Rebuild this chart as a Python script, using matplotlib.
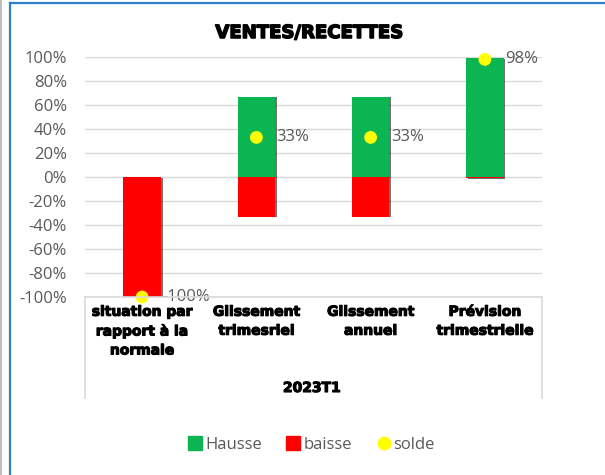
import numpy as np
import matplotlib.pyplot as plt
import matplotlib.patheffects as pe
from matplotlib.lines import Line2D

categories = ["situation par\nrapport à la\nnormale", "Glissement\ntrimesriel",
              "Glissement\nannuel", "Prévision\ntrimestrielle"]
hausse = [0, 67, 67, 99]
baisse = [-100, -33, -33, -1]
solde = [-100, 33, 33, 98]
group_label = "2023T1"
title = "VENTES/RECETTES"

green = "#0BB552"
red = "#FF0000"
yellow = "#FFFF00"
grey_txt = "#595959"
grid_col = "#D9D9D9"
body_font = ["Open Sans", "DejaVu Sans"]

plt.rcParams["font.family"] = ["DejaVu Sans"]

fig = plt.figure(figsize=(6.05, 4.75), dpi=100)
W, H = 605, 475

def fx(px):
    return px / W

def fy(py):
    return 1 - py / H

# plot area in pixel coordinates of the reference
left, right, top, bottom = 85, 542, 57, 297
ax = fig.add_axes([fx(left), fy(bottom), fx(right) - fx(left), fy(top) - fy(bottom)])

x = np.arange(len(categories))
shadow = [pe.SimplePatchShadow(offset=(1.2, -0.6), shadow_rgbFace="black", alpha=0.55), pe.Normal()]
b1 = ax.bar(x, np.array(hausse) / 100, width=0.33, color=green, zorder=3)
b2 = ax.bar(x, np.array(baisse) / 100, width=0.33, color=red, zorder=3)
for p in list(b1) + list(b2):
    p.set_path_effects(shadow)
ax.scatter(x, np.array(solde) / 100, s=85, color=yellow, zorder=5, edgecolors="none", clip_on=False)
for xi, s in zip(x, solde):
    ax.annotate(f"{s}%", (xi, s / 100), xytext=(14.5, 0), textcoords="offset points",
                ha="left", va="center", fontsize=12, color=grey_txt,
                family=body_font, zorder=6)

ax.set_xlim(-0.5, len(categories) - 0.5)
ax.set_ylim(-1, 1)
ticks = np.arange(-1, 1.01, 0.2)
ax.set_yticks(ticks)
ax.set_yticklabels([f"{int(round(v * 100))}%" for v in ticks],
                   fontsize=12, color=grey_txt, family=body_font)
ax.tick_params(axis="y", length=0, pad=13)
ax.set_xticks([])
ax.grid(axis="y", color=grid_col, linewidth=1, zorder=0)
for s in ax.spines.values():
    s.set_visible(False)

# multi-level category box
fig.add_artist(Line2D([fx(left), fx(right)], [fy(bottom), fy(bottom)], color=grid_col, lw=1.2))
for px in (left, right):
    fig.add_artist(Line2D([fx(px), fx(px)], [fy(bottom), fy(398)], color=grid_col, lw=1.2))

# heavier look for the bold labels (Arial Black in the original)
heavy = [pe.withStroke(linewidth=0.8, foreground="black")]

for xi, lab in zip(x, categories):
    ax.text(xi, -1.065, lab, ha="center", va="top", fontsize=10, fontweight="bold",
            linespacing=1.45, clip_on=False, path_effects=heavy)
fig.text(fx(312), fy(388), group_label, ha="center", va="center", fontsize=10,
         fontweight="bold", path_effects=heavy)

fig.text(fx(309), fy(33), title, ha="center", va="center", fontsize=13, fontweight="bold",
         path_effects=[pe.withStroke(linewidth=1.1, foreground="black")])

# legend
handles = [Line2D([], [], marker="s", ls="none", color=green, markersize=10),
           Line2D([], [], marker="s", ls="none", color=red, markersize=10),
           Line2D([], [], marker="o", ls="none", color=yellow, markersize=9)]
fig.legend(handles, ["Hausse", "baisse", "solde"], loc="center", bbox_to_anchor=(fx(310), fy(445)),
           ncol=3, frameon=False, handletextpad=0.0, columnspacing=1.3, handlelength=1.2,
           prop={"family": body_font, "size": 12}, labelcolor=grey_txt)

# outer frame
fig.add_artist(Line2D([fx(10), fx(10)], [fy(3), 0], color="#2E7FD0", lw=1.6))
fig.add_artist(Line2D([fx(10), 1], [fy(3), fy(3)], color="#2E7FD0", lw=1.6))
fig.add_artist(Line2D([fx(0.8), fx(0.8)], [1, 0], color="#BFBFBF", lw=1.5))

fig.savefig("out.png", dpi=100)
